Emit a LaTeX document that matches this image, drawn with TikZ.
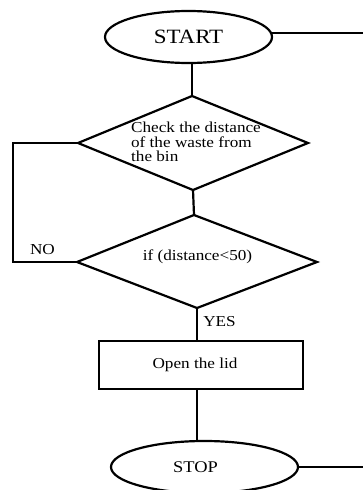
\documentclass[tikz,border=0pt]{standalone}
\usepackage{fontspec}
\setmainfont[FakeStretch=1.13]{Liberation Serif}
\usetikzlibrary{shapes.geometric}
\begin{document}
\begin{tikzpicture}[x=1pt,y=-1pt,
  line width=2.2pt,
  txt/.style={text=black, font=\fontsize{15.2}{14.6}\selectfont, inner sep=0pt},
  term/.style={ellipse, draw, txt, inner sep=0pt},
  procbox/.style={rectangle, draw, txt, inner sep=0pt},
  lbl/.style={txt}]
\useasboundingbox[fill=white] (0,0) rectangle (363,490);
\node[term, minimum width=167pt, minimum height=52pt,
      font=\fontsize{20.3}{22}\selectfont] (start) at (188.5,37) {START};
% decision 1
\coordinate (d1n) at (192,96);
\coordinate (d1w) at (78,143);
\coordinate (d1e) at (308,143);
\coordinate (d1s) at (193,190);
\draw[line join=miter] (d1n) -- (d1e) -- (d1s) -- (d1w) -- cycle;
\node[txt, align=left] (d1t) at (196,142)
  {Check the distance\\of the waste from\\the bin};
% decision 2
\coordinate (d2n) at (194,215);
\coordinate (d2w) at (77,262);
\coordinate (d2e) at (317,262);
\coordinate (d2s) at (197,308);
\draw[line join=miter] (d2n) -- (d2e) -- (d2s) -- (d2w) -- cycle;
\node[txt] (d2t) at (197.5,257) {if (distance<50)};
\node[procbox, minimum width=204pt, minimum height=48pt] (lid) at (201,365)
  {\hspace*{-12pt}Open the lid};
\node[term, minimum width=187pt, minimum height=52pt,
      font=\fontsize{16.3}{18}\selectfont] (stop) at (204.5,467)
  {\hspace*{-18pt}STOP};
\node[lbl] (no) at (42.5,250) {NO};
\node[lbl] (yes) at (219.5,322) {YES};
\coordinate (redge) at (363,0);
\coordinate (ledge) at (13,0);
% connectors
\draw (start.3.5) -- (start.3.5 -| redge);
\draw (d1n |- start.south) -- (d1n);
\draw (d1s) -- (d2n);
\draw (d1w) -- (d1w -| ledge) |- (d2w);
\draw (d2s) -- (d2s |- lid.north);
\draw (d2s |- lid.south) -- (d2s |- stop.north);
\draw (stop.east) -- (stop.east -| redge);
\end{tikzpicture}
\end{document}
